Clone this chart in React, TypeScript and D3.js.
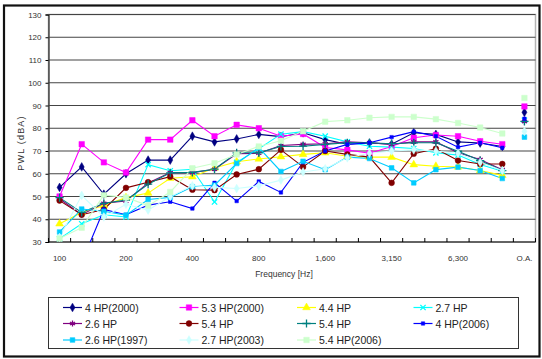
import React, { useEffect, useRef } from 'react';
import * as d3 from 'd3';

// 1/3 octave bands + overall
const bands = ['100', '125', '160', '200', '250', '315', '400', '500', '630', '800', '1,000', '1,250',
  '1,600', '2,000', '2,500', '3,150', '4,000', '5,000', '6,300', '8,000', '10,000', 'O.A.'];
const labelledBands = ['100', '200', '400', '800', '1,600', '3,150', '6,300', 'O.A.'];
const yTicks = [30, 40, 50, 60, 70, 80, 90, 100, 110, 120, 130];

const seriesNames = ['4 HP(2000)', '5.3 HP(2000)', '4.4 HP', '2.7 HP', '2.6 HP', '5.4 HP', '5.4 HP',
  '4 HP(2006)', '2.6 HP(1997)', '2.7 HP(2003)', '5.4 HP(2006)'];

const hp4_2000 = [54, 63, 51, 60, 66, 66, 76.5, 74, 75.3, 77.3, 76.3, 78, 75, 73, 73.5, 73, 78, 77.3, 74, 73.5, 72];
const hp53_2000 = [50, 73, 65, 60.5, 75, 75, 83.5, 76.5, 81.5, 80, 76.5, 77.5, 71.5, 70.5, 69, 72, 75.8, 77, 76.5, 74.3, 73];
const hp44 = [38, 43, 46, 49.5, 51.5, 58, 58.7, 62.5, 65.3, 66.5, 67.5, 68.5, 69.2, 67.7, 67.3, 67.3, 64, 63.3, 63, 61.4, 59.3];
const hp27 = [31.5, 38, 42, 41, 64, 61.3, 62, 47.6, 65, 71, 77.4, 78.5, 76.5, 74, 72.1, 71.7, 71.1, 69.2, 68.2, 64.1, 61.1];
const hp26 = [49, 42, 47, 48, 56, 60.5, 60.5, 62, 68.8, 69, 72.4, 72.9, 73.2, 74, 73.6, 72.9, 74, 74, 69.2, 66.3, 61.8];
const hp54a = [48.2, 42, 44.3, 53.8, 56.3, 58.7, 53, 52.8, 59.7, 62, 70.5, 63, 70, 68.5, 67.3, 56, 68.8, 71, 65.8, 64.3, 64.3];
const hp54b = [49.5, 43, 47, 48.4, 55.4, 60.4, 60.6, 62, 69.2, 69.2, 72, 72.1, 72.9, 73.6, 73.6, 73.2, 73.6, 73.6, 69.9, 65.8, 61.4];
const hp4_2006 = [null, 21, 44.3, 42, 46.2, 47.7, 44.7, 56, 48, 56.6, 51.8, 65, 70, 72.9, 73.6, 76.1, 78.5, 76.5, 71.7, 73.6, 71.4];
const hp26_1997 = [34.4, 44.5, 43.5, 41.8, 48.7, 49.6, 54.3, 55, 64.5, 71.5, 61, 65.5, 61.8, 67.3, 66.7, 62.6, 56, 61.8, 62.9, 61.4, 57.9];
const hp27_2003 = [32, 50.5, 41, 46.6, 44, 50, 54.7, 54, 53.5, 54.7, 57.2, 60.8, 62.2, 67, 69, 70, 70.5, 70, 69, 65, 61.4];
const hp54_2006 = [31.5, 36.3, 50.6, 49.6, 46, 52, 62.4, 64.6, 68.5, 72, 74.5, 78.7, 82.9, 83.5, 84.6, 85, 85, 84, 82.3, 80.3, 77.7];

// overall (O.A.) values per series
const overall = [87, 89.6, null, 83.5, 83, null, 83, 84.2, 76.1, 78.6, 93.3];

const seriesValues = [hp4_2000, hp53_2000, hp44, hp27, hp26, hp54a, hp54b, hp4_2006, hp26_1997, hp27_2003, hp54_2006];
const seriesColors = ['#000080', '#ff00ff', '#ffff00', '#00ffff', '#800080', '#800000', '#008080',
  '#0000ff', '#00ccff', '#ccffff', '#ccffcc'];

const W = 542;
const H = 359;

export default function App() {
  const svgRef = useRef<SVGSVGElement>(null);

  useEffect(() => {
    if (!svgRef.current) return;
    const svg = d3.select(svgRef.current);
    svg.selectAll('*').remove();

    const font = "'Liberation Sans', Arial, sans-serif";
    const plot = { left: 48.5, right: 535.5, top: 14.5, bottom: 242 };

    const x = d3.scaleBand<string>().domain(bands).range([plot.left, plot.right]);
    const y = d3.scaleLinear().domain([30, 130]).range([plot.bottom, plot.top]);
    const cx = (i: number) => (x(bands[i]) as number) + x.bandwidth() / 2;

    const symbols: any[] = [d3.symbolDiamond, d3.symbolSquare, d3.symbolTriangle, d3.symbolTimes, d3.symbolAsterisk,
      d3.symbolCircle, d3.symbolPlus, d3.symbolSquare, d3.symbolSquare, d3.symbolDiamond, d3.symbolSquare];
    const sizes = [22, 30, 26, 20, 24, 26, 24, 12, 22, 22, 30];
    const stroked = [false, false, false, true, true, false, true, false, false, false, false];

    svg.append('rect').attr('width', W).attr('height', H).attr('fill', '#fff');
    svg.append('rect').attr('x', 4).attr('y', 5.5).attr('width', 535.5).attr('height', 351)
      .attr('fill', 'none').attr('stroke', '#111').attr('stroke-width', 2.2);

    // plot area frame
    svg.append('rect').attr('x', plot.left).attr('y', plot.top)
      .attr('width', plot.right - plot.left).attr('height', plot.bottom - plot.top)
      .attr('fill', '#fff').attr('stroke', '#b4b4b4').attr('stroke-width', 1.5);

    // grid + y axis
    const gy = svg.append('g').attr('transform', `translate(${plot.left},0)`)
      .call(d3.axisLeft(y).tickValues(yTicks).tickSize(3).tickPadding(4));
    gy.select('.domain').attr('stroke', '#000');
    gy.selectAll('text').attr('font-family', font).attr('font-size', '8px').attr('fill', '#333');
    svg.append('g').selectAll('line').data(yTicks.filter(t => t > 30)).enter().append('line')
      .attr('x1', plot.left).attr('x2', plot.right).attr('y1', d => y(d)).attr('y2', d => y(d))
      .attr('stroke', '#444').attr('stroke-width', 1.1);

    // x axis: ticks on band boundaries (inside), labels every 3rd band
    svg.append('line').attr('x1', plot.left).attr('x2', plot.right).attr('y1', plot.bottom).attr('y2', plot.bottom)
      .attr('stroke', '#000');
    svg.append('g').selectAll('line').data(d3.range(bands.length + 1)).enter().append('line')
      .attr('x1', i => plot.left + i * x.step()).attr('x2', i => plot.left + i * x.step())
      .attr('y1', plot.bottom).attr('y2', plot.bottom - 4).attr('stroke', '#000');
    const gx = svg.append('g').attr('transform', `translate(0,${plot.bottom})`)
      .call(d3.axisBottom(x).tickValues(labelledBands).tickSize(0).tickPadding(13));
    gx.select('.domain').remove();
    gx.selectAll('text').attr('font-family', font).attr('font-size', '8px').attr('fill', '#333');

    svg.append('text').attr('x', 284).attr('y', 277).attr('text-anchor', 'middle')
      .attr('font-family', font).attr('font-size', '8.5px').attr('fill', '#333').text('Frequency [Hz]');
    svg.append('text').attr('transform', 'translate(24,143) rotate(-90)').attr('text-anchor', 'middle')
      .attr('font-family', font).attr('font-size', '9px').attr('letter-spacing', '1.2px').attr('fill', '#333')
      .text('PWL (dBA)');

    // series
    svg.append('clipPath').attr('id', 'plotclip').append('rect')
      .attr('x', plot.left).attr('y', plot.top).attr('width', plot.right - plot.left).attr('height', plot.bottom - plot.top);
    const series = svg.append('g').attr('clip-path', 'url(#plotclip)');

    const line = d3.line<number | null>()
      .defined(v => v != null)
      .x((_, i) => cx(i))
      .y(v => y(v as number));

    const drawMarker = (g: any, k: number, px: number, py: number) => {
      const path = d3.symbol().type(symbols[k]).size(sizes[k])();
      const m = g.append('path').attr('d', path).attr('transform', `translate(${px},${py})`);
      if (stroked[k]) m.attr('fill', 'none').attr('stroke', seriesColors[k]).attr('stroke-width', 1.3);
      else m.attr('fill', seriesColors[k]).attr('stroke', seriesColors[k]).attr('stroke-width', 0.5);
    };

    seriesValues.forEach((vals, k) => {
      series.append('path').datum(vals).attr('d', line)
        .attr('fill', 'none').attr('stroke', seriesColors[k]).attr('stroke-width', 1.1);
    });
    seriesValues.forEach((vals, k) => {
      vals.forEach((v, i) => { if (v != null) drawMarker(series, k, cx(i), y(v)); });
      const oa = overall[k];
      if (oa != null) drawMarker(series, k, cx(bands.length - 1), y(oa));
    });

    // legend
    svg.append('rect').attr('x', 48.5).attr('y', 297.5).attr('width', 470).attr('height', 51)
      .attr('fill', '#fff').attr('stroke', '#333').attr('stroke-width', 1);
    const colX = [63, 179.5, 297, 413.5];
    const rowY = [307.5, 323.5, 340];
    const lg = svg.append('g');
    seriesNames.forEach((name, k) => {
      const lx = colX[k % 4];
      const ly = rowY[Math.floor(k / 4)];
      lg.append('line').attr('x1', lx).attr('x2', lx + 19).attr('y1', ly).attr('y2', ly)
        .attr('stroke', seriesColors[k]).attr('stroke-width', 1.2);
      drawMarker(lg, k, lx + 9.5, ly);
      lg.append('text').attr('x', lx + 22).attr('y', ly + 4).attr('font-family', font)
        .attr('font-size', '10.5px').attr('fill', '#222').text(name);
    });
  }, []);

  return (
    <svg ref={svgRef} width={W} height={H} viewBox={`0 0 ${W} ${H}`}
      style={{ position: 'absolute', left: 0, top: 0, display: 'block' }} />
  );
}
